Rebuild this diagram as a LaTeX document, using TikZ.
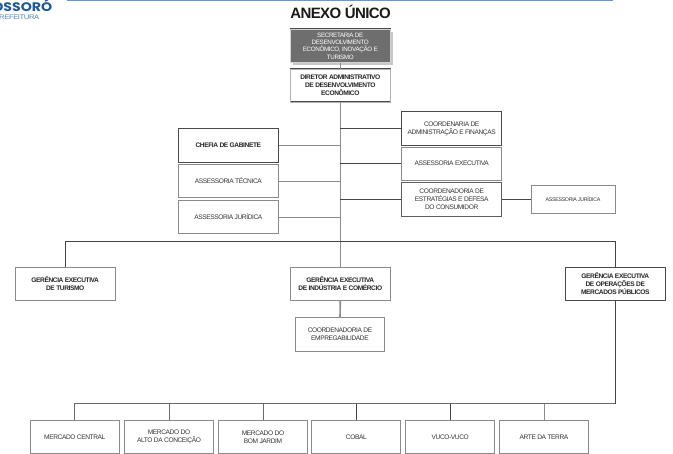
\documentclass[tikz,border=0pt]{standalone}
\usepackage{fontspec}
\setmainfont{Liberation Sans}[LetterSpace=-6]
\newfontfamily\titlefont{Liberation Sans}[LetterSpace=-4]
\newfontfamily\logofont{Poppins}
\usetikzlibrary{shadows}
\definecolor{boxdark}{HTML}{4A4A4A}
\definecolor{boxsoft}{HTML}{8A8A8A}
\definecolor{linkdark}{HTML}{444444}
\definecolor{linkmid}{HTML}{6A6A6A}
\definecolor{trunkgray}{HTML}{8C8C8C}
\definecolor{logoblue}{HTML}{1F5A96}
\definecolor{rulebl}{HTML}{6F97C0}
\definecolor{secfill}{HTML}{6E6E6E}
\tikzset{
  x=1pt,y=-1pt,
  label text/.style={font=\fontsize{6.6}{8}\selectfont,align=center,text=black!80},
  strong text/.style={font=\fontsize{6.6}{8}\selectfont\bfseries,align=center,text=black!85},
  orgbox/.style={draw=#1,line width=0.75pt,fill=white,inner sep=0pt,minimum width=100pt,minimum height=33.3pt},
  orgbox/.default=boxsoft,
  marketbox/.style={orgbox,minimum width=89pt,minimum height=33pt},
  thin link/.style={draw=linkdark,line width=0.7pt},
  soft link/.style={draw=boxsoft,line width=0.9pt},
  bus link/.style={draw=linkmid,line width=0.9pt},
  trunk link/.style={draw=trunkgray,line width=1.6pt},
}
\begin{document}
\begin{tikzpicture}
\useasboundingbox (0,0) rectangle (673,454);
\fill[white] (0,0) rectangle (673,454);
% header
\coordinate (ruleL) at (67,0.6);
\coordinate (ruleR) at (613,0.6);
\draw[rulebl,line width=1.2pt] (ruleL) -- (ruleR);
\node[anchor=base east,inner sep=0pt,xscale=1.14,text=logoblue,font=\logofont\fontsize{12.4}{13}\selectfont\bfseries] (logoa) at (52.5,12) {OSSORÓ};
\node[anchor=base east,inner sep=0pt,xscale=1.17,text=logoblue!75,font=\fontsize{6.6}{7}\selectfont] (logob) at (39.5,19.3) {REFEITURA};
\node[anchor=base,inner sep=0pt,font=\titlefont\fontsize{15}{16}\selectfont\bfseries,text=black!90] (title) at (340.5,18.5) {ANEXO ÚNICO};
% top boxes
\node[orgbox=boxdark,fill=secfill,double=white!70!secfill,double distance=0.5pt,line width=0.5pt,minimum height=33.5pt,label text,text=white!90,font=\fontsize{6.3}{7.3}\selectfont,
  general shadow={fill=black!22,shadow xshift=2.5pt,shadow yshift=-2.5pt}] (sec) at (340.3,46) {SECRETARIA DE\\DESENVOLVIMENTO\\ECONÔMICO, INOVAÇÃO E\\TURISMO};
\node[orgbox=boxdark,double=white!70!black,double distance=0.6pt,line width=0.5pt,strong text] (dir) at (340.3,85.5) {DIRETOR ADMINISTRATIVO\\DE DESENVOLVIMENTO\\ECONÔMICO};
% left staff
\node[orgbox=boxdark,strong text] (chefia) at (228.3,145.5) {CHEFIA DE GABINETE};
\node[orgbox,label text] (tecnica) at (228.3,181) {ASSESSORIA TÉCNICA};
\node[orgbox,label text] (juridl) at (228.3,217) {ASSESSORIA JURÍDICA};
% right staff
\node[orgbox=boxdark,label text] (adm) at (451.7,128.5) {COORDENARIA DE\\ADMINISTRAÇÃO E FINANÇAS};
\node[orgbox,label text] (exec) at (451.7,163.7) {ASSESSORIA EXECUTIVA};
\node[orgbox=boxdark!70!boxsoft,label text] (estr) at (451.7,199.5) {COORDENADORIA DE\\ESTRATÉGIAS E DEFESA\\DO CONSUMIDOR};
\node[orgbox,minimum width=84pt,minimum height=28pt,label text,font=\fontsize{5.3}{6}\selectfont] (juridr) at (573,199) {ASSESSORIA JURÍDICA};
% managers
\node[orgbox,strong text] (gtur) at (65.2,284) {GERÊNCIA EXECUTIVA\\DE TURISMO};
\node[orgbox,strong text] (gind) at (340.3,284) {GERÊNCIA EXECUTIVA\\DE INDÚSTRIA E COMÉRCIO};
\node[orgbox=boxdark,strong text] (gope) at (615.3,284) {GERÊNCIA EXECUTIVA\\DE OPERAÇÕES DE\\MERCADOS PÚBLICOS};
\node[orgbox,minimum width=89pt,label text] (emp) at (340,334.3) {COORDENADORIA DE\\EMPREGABILIDADE};
% markets
\node[marketbox,label text] (m1) at (74.8,437.3) {MERCADO CENTRAL};
\node[marketbox,label text] (m2) at (169,437.3) {MERCADO DO\\ALTO DA CONCEIÇÃO};
\node[marketbox,label text] (m3) at (263,437.3) {MERCADO DO\\BOM JARDIM};
\node[marketbox,label text] (m4) at (356.3,437.3) {COBAL};
\node[marketbox,label text] (m5) at (450.2,437.3) {VUCO-VUCO};
\node[marketbox,label text] (m6) at (544,437.3) {ARTE DA TERRA};
% connectors
\coordinate (busA) at (340.3,241.3);
\coordinate (busB) at (615.3,403.8);
\draw[trunk link] (sec.south) -- (dir.north);
\draw[trunk link] (dir.south) -- (gind.north);
\draw[thin link] (adm.west) -- (adm.west -| dir.south);
\draw[thin link] (exec.west) -- (exec.west -| dir.south);
\draw[thin link] (estr.west) -- (estr.west -| dir.south);
\draw[thin link] (estr.east) -- (estr.east -| juridr.west);
\draw[soft link] (chefia.east) -- (chefia.east -| dir.south);
\draw[soft link] (tecnica.east) -- (tecnica.east -| dir.south);
\draw[soft link] (juridl.east) -- (juridl.east -| dir.south);
\draw[thin link] (gtur.north) |- (busA) -| (gope.north);
\draw[trunk link] (gind.south) -- (emp.north);
\draw[thin link] (gope.south) -- (busB);
\draw[bus link] (m1.north) |- (busB);
\draw[bus link] (m2.north) -- (m2.north |- busB);
\draw[bus link] (m3.north) -- (m3.north |- busB);
\draw[thin link] (m4.north) -- (m4.north |- busB);
\draw[thin link] (m5.north) -- (m5.north |- busB);
\draw[trunk link,line width=1pt] (m6.north) -- (m6.north |- busB);
\end{tikzpicture}
\end{document}
